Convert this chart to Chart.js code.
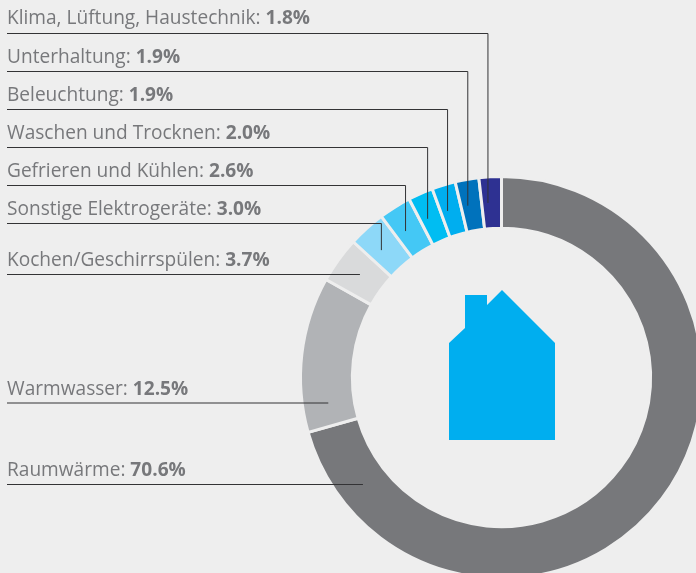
<!DOCTYPE html>
<html>
<head>
<meta charset="utf-8">
<script src="https://cdn.jsdelivr.net/npm/chart.js@4"></script>
<style>
html, body { margin: 0; padding: 0; background: #eeeeee; overflow: hidden; }
canvas { display: block; }
</style>
</head>
<body>
<!-- wider than the window: the ring runs past the right and bottom edges -->
<canvas id="myChart" width="720" height="600"></canvas>
<script>
// clockwise from the top of the ring
const categories = ['Raumwärme', 'Warmwasser', 'Kochen/Geschirrspülen', 'Sonstige Elektrogeräte', 'Gefrieren und Kühlen', 'Waschen und Trocknen', 'Beleuchtung', 'Unterhaltung', 'Klima, Lüftung, Haustechnik'];
const values = [70.6, 12.5, 3.7, 3.0, 2.6, 2.0, 1.9, 1.9, 1.8];
const colors = ['#77787b', '#b1b3b6', '#d9dadb', '#8dd8f8', '#44c8f5', '#00bdf2', '#00aeef', '#0072bc', '#2e3192'];
// label layout, same order
const rule_y = [484.5, 403, 274.5, 223.5, 185.5, 147.5, 109.5, 71.5, 33.5];
const text_y = [476, 395, 266, 215, 177, 139, 101, 63, 24];
const elbow = [false, false, false, true, true, true, true, true, true];
const text_color = '#77787b';
const font_name = '"Open Sans", sans-serif';

const leaders = {
    id: 'leaders',
    afterDatasetsDraw(chart) {
        const c = chart.ctx;
        const arcs = chart.getDatasetMeta(0).data;
        c.save();
        c.textBaseline = 'alphabetic';
        arcs.forEach(function(arc, i) {
            const r = (arc.innerRadius + arc.outerRadius) / 2;
            const y = rule_y[i];
            let end_x, end_y;
            if (elbow[i]) {
                // elbows land a touch before the middle of the slice
                const a = (arc.startAngle + arc.endAngle) / 2 - 1.2 * Math.PI / 180;
                end_x = arc.x + r * Math.cos(a);
                end_y = arc.y + r * Math.sin(a);
            } else {
                end_x = arc.x - Math.sqrt(r * r - (y - arc.y) * (y - arc.y));
                end_y = y;
            }
            c.beginPath();
            c.moveTo(7, y);
            c.lineTo(end_x, y);
            c.lineTo(end_x, end_y);
            c.lineWidth = 1;
            c.strokeStyle = '#333335';
            c.stroke();

            const name = categories[i] + ': ';
            const val = values[i].toFixed(1) + '%';
            c.fillStyle = text_color;
            c.font = '19.1px ' + font_name;
            c.fillText(name, 7, text_y[i]);
            const w = c.measureText(name).width;
            c.font = 'bold 19.1px ' + font_name;
            c.fillText(val, 7 + w, text_y[i]);
        });
        c.restore();
    }
};

// house icon in the middle of the ring
const house = {
    id: 'house',
    afterDatasetsDraw(chart) {
        const c = chart.ctx;
        c.save();
        c.fillStyle = '#00aeef';
        c.beginPath();
        c.moveTo(449, 343);
        c.lineTo(465, 328);
        c.lineTo(465, 295);
        c.lineTo(487, 295);
        c.lineTo(487, 305);
        c.lineTo(502, 290);
        c.lineTo(555, 343);
        c.lineTo(555, 440);
        c.lineTo(449, 440);
        c.closePath();
        c.fill();
        c.restore();
    }
};

new Chart(document.getElementById('myChart'), {
    type: 'doughnut',
    data: {
        labels: categories,
        datasets: [{
            data: values,
            backgroundColor: colors,
            borderColor: '#eeeeee',
            borderWidth: 3
        }]
    },
    options: {
        responsive: false,
        animation: false,
        cutout: '74.2%',
        layout: {
            padding: { left: 299, right: 16, top: 175, bottom: 20 }
        },
        plugins: {
            legend: { display: false },
            tooltip: { enabled: false }
        }
    },
    plugins: [house, leaders]
});
</script>
</body>
</html>
